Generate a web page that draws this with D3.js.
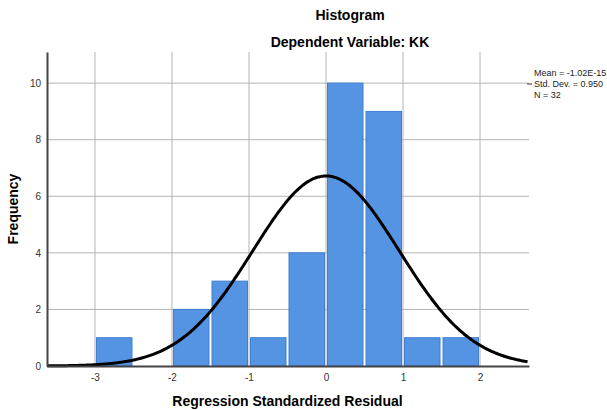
<!DOCTYPE html>
<html>
<head>
<meta charset="utf-8">
<script src="https://cdn.jsdelivr.net/npm/d3@7"></script>
<style>
  body { margin: 0; background: #fff; }
  text { font-family: "Liberation Sans", Arial, sans-serif; }
</style>
</head>
<body>
<div id="chart"></div>
<script>
// histogram bins (lower edge, upper edge) and counts
var binStart = [-3, -2, -1.5, -1, -0.5, 0, 0.5, 1, 1.5];
var binEnd = [-2.5, -1.5, -1, -0.5, 0, 0.5, 1, 1.5, 2];
var counts = [1, 2, 3, 1, 4, 10, 9, 1, 1];
var xTicks = [-3, -2, -1, 0, 1, 2];
var yTicks = [0, 2, 4, 6, 8, 10];
// summary stats shown in the legend
var mean = -1.02e-15;
var stdDev = 0.95;
var n = 32;
var legendLines = ["Mean = -1.02E-15", "Std. Dev. = 0.950", "N = 32"];

var W = 607, H = 410;
var margin = { top: 52, right: 78, bottom: 44, left: 47 };
var width = W - margin.left - margin.right,
  height = H - margin.top - margin.bottom;

var x = d3.scaleLinear().domain([-3.623, 2.636]).range([0, width]);
var y = d3.scaleLinear().domain([0, 11.1]).range([height, 0]);

var svg = d3
  .select("#chart")
  .append("svg")
  .attr("width", W)
  .attr("height", H);

var g = svg
  .append("g")
  .attr("transform", "translate(" + margin.left + "," + margin.top + ")");

// grid lines
g.append("g")
  .selectAll("line")
  .data(yTicks.slice(1))
  .enter()
  .append("line")
  .attr("x1", 0)
  .attr("x2", width)
  .attr("y1", function (d) { return y(d); })
  .attr("y2", function (d) { return y(d); })
  .style("stroke", "#b4b4b4")
  .style("stroke-width", 1);

g.append("g")
  .selectAll("line")
  .data(xTicks)
  .enter()
  .append("line")
  .attr("x1", function (d) { return x(d); })
  .attr("x2", function (d) { return x(d); })
  .attr("y1", 0)
  .attr("y2", height)
  .style("stroke", "#b4b4b4")
  .style("stroke-width", 1);

// bars
g.append("g")
  .selectAll("rect")
  .data(counts)
  .enter()
  .append("rect")
  .attr("x", function (d, i) { return x(binStart[i]) + 1.5; })
  .attr("width", function (d, i) { return x(binEnd[i]) - x(binStart[i]) - 3; })
  .attr("y", function (d) { return y(d); })
  .attr("height", function (d) { return height - y(d); })
  .style("fill", "#5594e2")
  .style("stroke", "#3f7fd3")
  .style("stroke-width", 1);

// normal curve from mean / sd, scaled to counts per bin (width 0.5)
var binWidth = 0.5;
var curveX = d3.range(x.domain()[0], x.domain()[1] + 0.001, 0.02);
var normal = curveX.map(function (v) {
  var z = (v - mean) / stdDev;
  return {
    v: v,
    f: (n * binWidth) / (stdDev * Math.sqrt(2 * Math.PI)) * Math.exp(-0.5 * z * z)
  };
});

g.append("path")
  .datum(normal)
  .attr(
    "d",
    d3
      .line()
      .x(function (d) { return x(d.v); })
      .y(function (d) { return y(d.f); })
      .curve(d3.curveBasis)
  )
  .style("fill", "none")
  .style("stroke", "#000")
  .style("stroke-width", 3);

// axes
var plainFormat = function (d) { return String(d); };
var xAxis = d3.axisBottom(x).tickValues(xTicks).tickFormat(plainFormat).tickSize(0).tickPadding(8);
var yAxis = d3.axisLeft(y).tickValues(yTicks).tickFormat(plainFormat).tickSize(0).tickPadding(6);

var gx = g
  .append("g")
  .attr("transform", "translate(0," + height + ")")
  .call(xAxis);
gx.select(".domain").style("stroke", "#444").style("stroke-width", 2);
gx.selectAll("text").style("font-size", "10px").style("fill", "#333")
  .style("font-family", "'Liberation Sans', Arial, sans-serif");

var gy = g.append("g").call(yAxis);
gy.select(".domain").style("stroke", "#444").style("stroke-width", 2);
gy.selectAll("text").style("font-size", "10px").style("fill", "#333")
  .style("font-family", "'Liberation Sans', Arial, sans-serif");

// titles
svg
  .append("text")
  .attr("x", 350)
  .attr("y", 20)
  .attr("text-anchor", "middle")
  .style("font-size", "14px")
  .style("font-weight", "bold")
  .text("Histogram");
svg
  .append("text")
  .attr("x", 350)
  .attr("y", 47)
  .attr("text-anchor", "middle")
  .style("font-size", "14px")
  .style("font-weight", "bold")
  .text("Dependent Variable: KK");

svg
  .append("text")
  .attr("x", margin.left + x(-0.5))
  .attr("y", 406)
  .attr("text-anchor", "middle")
  .style("font-size", "14px")
  .style("font-weight", "bold")
  .text("Regression Standardized Residual");

svg
  .append("text")
  .attr("transform", "translate(18," + (margin.top + height / 2) + ") rotate(-90)")
  .attr("text-anchor", "middle")
  .style("font-size", "14px")
  .style("font-weight", "bold")
  .text("Frequency");

// legend
var legend = svg.append("g").attr("transform", "translate(534,76)");
legend
  .selectAll("text")
  .data(legendLines)
  .enter()
  .append("text")
  .attr("x", 0)
  .attr("y", function (d, i) { return i * 11; })
  .style("font-size", "9px")
  .style("fill", "#222")
  .text(function (d) { return d; });
legend
  .append("line")
  .attr("x1", -7)
  .attr("x2", -2)
  .attr("y1", 8)
  .attr("y2", 8)
  .style("stroke", "#333")
  .style("stroke-width", 1);
</script>
</body>
</html>
